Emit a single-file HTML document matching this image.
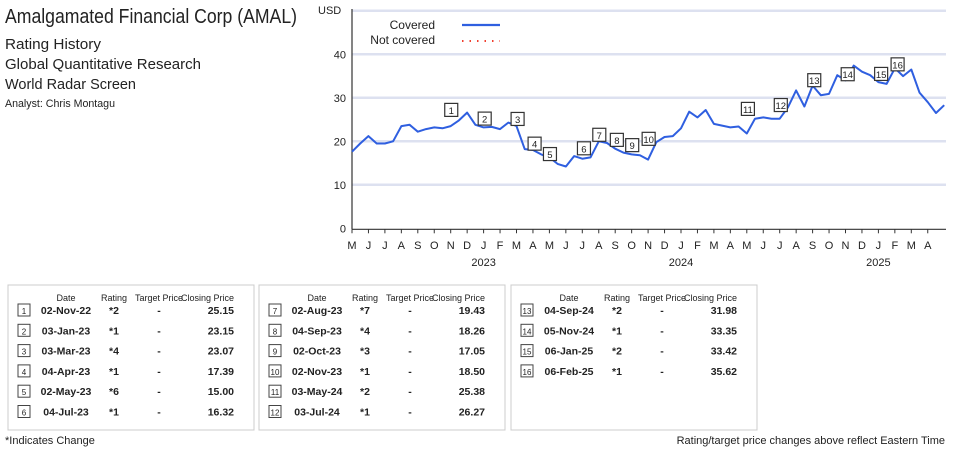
<!DOCTYPE html>
<html><head><meta charset="utf-8"><style>
body{margin:0;background:#fff;font-family:"Liberation Sans",sans-serif;color:#222}
svg text{font-family:"Liberation Sans",sans-serif}
</style></head><body>
<svg id="c" width="955" height="448" viewBox="0 0 955 448">
<g fill="#222">
<text x="5" y="23" font-size="20" textLength="292" lengthAdjust="spacingAndGlyphs">Amalgamated Financial Corp (AMAL)</text>
<text x="5" y="49" font-size="15" textLength="96" lengthAdjust="spacingAndGlyphs">Rating History</text>
<text x="5" y="69" font-size="15" textLength="196" lengthAdjust="spacingAndGlyphs">Global Quantitative Research</text>
<text x="5" y="89" font-size="15" textLength="131" lengthAdjust="spacingAndGlyphs">World Radar Screen</text>
<text x="5" y="107" font-size="11" textLength="110" lengthAdjust="spacingAndGlyphs">Analyst: Chris Montagu</text>
</g>
<g id="grid"></g><g id="axes"></g><g id="line"></g><g id="marks"></g>
<g>
<text x="435" y="29" font-size="12" text-anchor="end" fill="#222">Covered</text>
<line x1="462" y1="25" x2="500" y2="25" stroke="#2f5fe0" stroke-width="2.2"/>
<text x="435" y="44" font-size="12" text-anchor="end" fill="#222">Not covered</text>
<line x1="462" y1="41" x2="500" y2="41" stroke="#f04030" stroke-width="2" stroke-dasharray="1.5,6"/>
</g>
<g id="tables"></g>
<text x="5" y="444" font-size="11" fill="#222">*Indicates Change</text>
<text x="945" y="444" font-size="11" text-anchor="end" fill="#222">Rating/target price changes above reflect Eastern Time</text>
</svg>
<script>
const yTicks=[0,10,20,30,40,50];
const monthLabels=["M","J","J","A","S","O","N","D","J","F","M","A","M","J","J","A","S","O","N","D","J","F","M","A","M","J","J","A","S","O","N","D","J","F","M","A"];
const yearLabels=["2023","2024","2025"];
const yearMonthIdx=[8,20,32];
// semi-monthly closing prices from 1-May-2022
const prices=[17.6,19.5,21.2,19.5,19.5,20,23.5,23.8,22.2,22.8,23.2,23,23.5,24.8,26.6,23.8,23.2,23.3,22.8,24.3,23.5,18.2,18,17,16.3,14.8,14.2,16.6,16,16.3,20,19.6,18.3,17.4,17,16.8,15.8,19.8,21,21.2,23,26.8,25.5,27.2,24,23.6,23.2,23.4,21.8,25.2,25.5,25.2,25.2,27.8,31.7,28,32.8,30.6,30.9,35.2,34,37.4,36,35.2,33.6,33.2,36.8,35,36.5,31.2,29,26.5,28.3];
const markerNums=[1,2,3,4,5,6,7,8,9,10,11,12,13,14,15,16];
const markerDates=["2022-11-02","2023-01-03","2023-03-03","2023-04-04","2023-05-02","2023-07-04","2023-08-02","2023-09-04","2023-10-02","2023-11-02","2024-05-03","2024-07-03","2024-09-04","2024-11-05","2025-01-06","2025-02-06"];
const markerRatings=["*2","*1","*4","*1","*6","*1","*7","*4","*3","*1","*2","*1","*2","*1","*2","*1"];
const markerTargets=["-","-","-","-","-","-","-","-","-","-","-","-","-","-","-","-"];
const markerPrices=[25.15,23.15,23.07,17.39,15.00,16.32,19.43,18.26,17.05,18.50,25.38,26.27,31.98,33.35,33.42,35.62];
const X0=352,MW=16.45,Y0=228.3,PU=4.35;
const xM=m=>X0+m*MW, yV=v=>Y0-v*PU;
const NS="http://www.w3.org/2000/svg";
function mk(p,t,a){const e=document.createElementNS(NS,t);for(const k in a)e.setAttribute(k,a[k]);p.appendChild(e);return e;}
const grid=document.getElementById('grid'),axes=document.getElementById('axes');
yTicks.forEach(v=>{
 if(v>0){const g=mk(grid,'line',{x1:X0,x2:946,y1:yV(v),y2:yV(v),stroke:'#dde1f0','stroke-width':2.5});
 
 }
 if(v<50){const t=mk(axes,'text',{x:346,y:yV(v)+4,'font-size':11,'text-anchor':'end',fill:'#222'});t.textContent=v;
 
 }
});
const ut=mk(axes,'text',{x:318,y:14,'font-size':11,fill:'#222'});ut.textContent='USD';


const ya=mk(axes,'line',{x1:X0,x2:X0,y1:9,y2:Y0+1,stroke:'#333','stroke-width':1.2});


const xa=mk(axes,'line',{x1:X0,x2:946,y1:Y0+1,y2:Y0+1,stroke:'#333','stroke-width':1.2});


monthLabels.forEach((l,i)=>{
 const x=xM(i);
 mk(axes,'line',{x1:x,x2:x,y1:Y0+1,y2:Y0+5,stroke:'#333','stroke-width':1});
 const t=mk(axes,'text',{x:x,y:249,'font-size':11,'text-anchor':'middle',fill:'#222'});t.textContent=l;
 
 
});
yearLabels.forEach((l,i)=>{
 const t=mk(axes,'text',{x:xM(yearMonthIdx[i]),y:266,'font-size':11,'text-anchor':'middle',fill:'#222'});t.textContent=l;
 
 
});
const pts=prices.map((v,i)=>xM(i/2).toFixed(1)+','+yV(v).toFixed(1)).join(' ');
const pl=mk(document.getElementById('line'),'polyline',{points:pts,fill:'none',stroke:'#2f5fe0','stroke-width':2,'stroke-linejoin':'round'});


function mIdx(d){const [y,m,dd]=d.split('-').map(Number);return (y-2022)*12+(m-5)+(dd-1)/30;}
const marks=document.getElementById('marks');
markerNums.forEach((n,i)=>{
 const g=mk(marks,'g',{});
 
 
 const x=xM(mIdx(markerDates[i])),y=yV(markerPrices[i])-9;
 mk(g,'rect',{x:x-6.5,y:y-6.5,width:13,height:13,fill:'#fff',stroke:'#333','stroke-width':1.2});
 const t=mk(g,'text',{x:x,y:y+4,'font-size':9.5,'text-anchor':'middle',fill:'#222'});t.textContent=n;
});
const tables=document.getElementById('tables');
const boxX=[8,259,511];
for(let b=0;b<3;b++){
 const g=mk(tables,'g',{});
 
 
 const bx=boxX[b];
 mk(g,'rect',{x:bx,y:285,width:246,height:145,fill:'#fff',stroke:'#ccc','stroke-width':1});
 [['Date',58],['Rating',107],['Target Price',151],['Closing Price',195]].forEach(([h,dx])=>{
  const t=mk(g,'text',{x:bx+dx,y:301,'font-size':9,'text-anchor':h==='Date'?'middle':'start',fill:'#222'});t.textContent=h;
  if(h==='Date')t.setAttribute('x',bx+58);
  if(h==='Closing Price'){t.setAttribute('x',bx+226);t.setAttribute('text-anchor','end');}
  if(h==='Rating'){t.setAttribute('x',bx+106);t.setAttribute('text-anchor','middle');}
  if(h==='Target Price'){t.setAttribute('x',bx+151);t.setAttribute('text-anchor','middle');}
 });
}
const lbl=d=>{const mn=["Jan","Feb","Mar","Apr","May","Jun","Jul","Aug","Sep","Oct","Nov","Dec"];const [y,m,dd]=d.split('-');return dd+'-'+mn[+m-1]+'-'+y.slice(2);};
markerNums.forEach((n,i)=>{
 const b=Math.floor(i/6),r=i%6,bx=boxX[b],y=313+r*20.3;
 const g=mk(tables,'g',{});
 
 
 mk(g,'rect',{x:bx+10,y:y-9,width:12,height:12,fill:'#fff',stroke:'#444','stroke-width':1});
 const nt=mk(g,'text',{x:bx+16,y:y+1,'font-size':8,'text-anchor':'middle',fill:'#222'});nt.textContent=n;
 const cells=[[lbl(markerDates[i]),bx+58,'middle'],[markerRatings[i],bx+106,'middle'],[markerTargets[i],bx+151,'middle'],[markerPrices[i].toFixed(2),bx+226,'end']];
 cells.forEach(([s,x,a])=>{const t=mk(g,'text',{x:x,y:y+1,'font-size':10.5,'font-weight':'bold','text-anchor':a,fill:'#222'});t.textContent=s;});
});
</script>
</body></html>
